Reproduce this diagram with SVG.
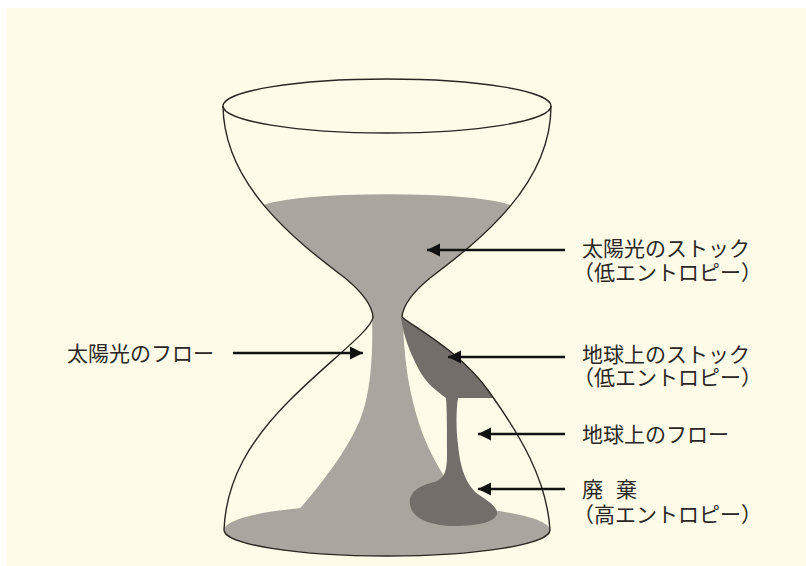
<svg xmlns="http://www.w3.org/2000/svg" width="806" height="566" viewBox="0 0 806 566">
  <style>
    .label { font-family: "Noto Sans CJK JP", "Noto Sans", sans-serif; font-size: 21px; fill: #2a2724; }
    .glass { fill: none; stroke: #2a2622; stroke-width: 1.4; }
    .arrow { stroke: #111; stroke-width: 2.6; fill: none; marker-end: url(#head); }
    .sand { fill: #aaa59e; }
    .dark { fill: #736e69; }
  </style>
  <defs>
    <marker id="head" markerUnits="userSpaceOnUse" markerWidth="16" markerHeight="16" refX="13" refY="7" orient="auto">
      <path d="M0,0.5 L13,7 L0,13.5 Z" fill="#111"/>
    </marker>
    <!-- inside of the hourglass -->
    <clipPath id="inside">
      <path d="M223,106 C224,185 295,240 345,278 C362,292 372,304 373,317 C372,330 330,360 290,400 C250,440 226,480 224,530 L550,530 C547,480 520,435 490,393 C462,352 412,326 402,317 C403,304 413,292 430,278 C480,240 551,185 551,106 Z"/>
    </clipPath>
  </defs>

  <!-- page -->
  <rect x="0" y="0" width="806" height="566" fill="#ffffff"/>
  <rect x="6" y="8" width="800" height="558" fill="#fefce8"/>

  <!-- hourglass -->
  <g id="hourglass">
    <!-- sand settled on the bottom -->
    <ellipse class="sand" cx="387" cy="530" rx="163" ry="26"/>
    <g clip-path="url(#inside)">
      <!-- solar stock in the upper bulb -->
      <path class="sand" d="M200,318 L200,208 L262,206 A128,15 0 0 1 512,206 L600,208 L600,318 Z"/>
      <!-- solar flow through the neck -->
      <path class="sand" d="M372,310 L403,310 C403,360 410,410 432,455 C445,480 460,500 472,520 L290,520 C318,488 345,455 360,420 C372,390 373,350 372,310 Z"/>
      <!-- earth stock, earth flow and waste -->
      <path class="dark" d="M401,318 C440,330 500,365 530,398 L458,398 C456,410 456,430 458,445 C460,465 464,480 475,492 C486,500 498,506 497,514 C495,522 478,526 455,526 C430,526 412,518 410,505 C408,492 420,485 435,482 C445,478 447,470 447,455 C447,430 447,410 446,398 C438,392 426,384 418,368 C410,352 404,338 401,318 Z"/>
    </g>
    <!-- glass outline -->
    <path class="glass" d="M223,106 C224,185 295,240 345,278 C362,292 372,304 373,317 C372,330 330,360 290,400 C250,440 226,480 224,530"/>
    <path class="glass" d="M551,106 C551,185 480,240 430,278 C413,292 403,304 402,317 C412,326 462,352 490,393 C520,435 547,480 550,530"/>
    <path class="glass" d="M224,530 A163,26 0 0 0 550,530"/>
    <ellipse class="glass" cx="387" cy="106" rx="164" ry="27"/>
  </g>

  <!-- pointer arrows -->
  <g id="connectors">
    <line class="arrow" x1="565" y1="250" x2="427" y2="250"/>
    <line class="arrow" x1="233" y1="353" x2="363" y2="353"/>
    <line class="arrow" x1="565" y1="357" x2="448" y2="357"/>
    <line class="arrow" x1="565" y1="434" x2="478" y2="434"/>
    <line class="arrow" x1="565" y1="489" x2="478" y2="489"/>
  </g>

  <g id="solar-stock">
    <text class="label" x="582" y="256">太陽光のストック</text>
    <text class="label" x="573" y="280">（低エントロピー）</text>
  </g>
  <g id="solar-flow">
    <text class="label" x="67" y="361">太陽光のフロー</text>
  </g>
  <g id="earth-stock">
    <text class="label" x="582" y="362">地球上のストック</text>
    <text class="label" x="573" y="385">（低エントロピー）</text>
  </g>
  <g id="earth-flow">
    <text class="label" x="582" y="442">地球上のフロー</text>
  </g>
  <g id="waste">
    <text class="label" x="582" y="497">廃<tspan x="616">棄</tspan></text>
    <text class="label" x="573" y="522">（高エントロピー）</text>
  </g>
</svg>
